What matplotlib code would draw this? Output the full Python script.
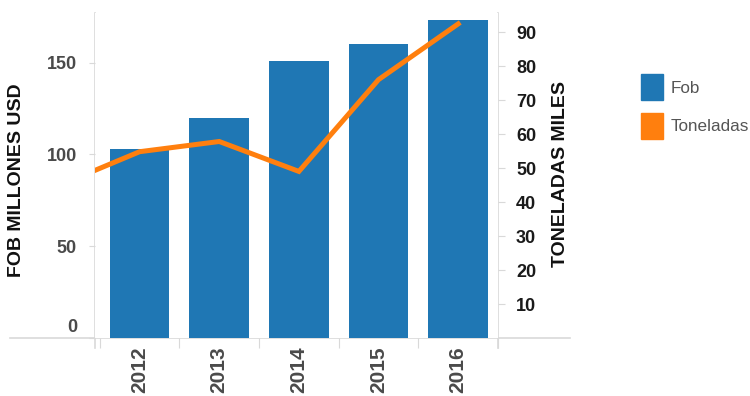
import numpy as np
import matplotlib
matplotlib.use("Agg")
import matplotlib.pyplot as plt
import matplotlib.transforms as mtransforms
from matplotlib.patches import Patch
from matplotlib.lines import Line2D

plt.rcParams['font.family'] = ['Liberation Sans', 'DejaVu Sans']

# Exportaciones por año
years = ["2012", "2013", "2014", "2015", "2016"]
fob = [103, 120, 151, 160, 173]                     # millones USD
# the tonnage series starts one year earlier, clipped at the left edge
ton_years = ["2011", "2012", "2013", "2014", "2015", "2016"]
toneladas = [45, 54.8, 57.8, 49, 76, 92.4]          # miles de toneladas

fob_ticks = [0, 50, 100, 150]
ton_ticks = [10, 20, 30, 40, 50, 60, 70, 80, 90]

BLUE = "#1f77b4"
ORANGE = "#ff7f0e"
GRID = "#d9d9d9"

W, H = 750, 396
fig = plt.figure(figsize=(W / 100, H / 100), dpi=100)
L, R, T, B = 95, 498, 13, 338
ax = fig.add_axes([L / W, 1 - B / H, (R - L) / W, (B - T) / H])

x = np.arange(len(years))
x_ton = np.arange(len(ton_years)) - 1
ax.bar(x, fob, width=0.75, color=BLUE, zorder=2)
ax.set_xlim(-0.56, 4.5)
ax.set_ylim(0, 177)

ax2 = ax.twinx()
ax2.plot(x_ton, toneladas, color=ORANGE, lw=3.6, solid_joinstyle="miter", zorder=3)
ax2.set_ylim(0, 95.6)

for a in (ax, ax2):
    for s in a.spines.values():
        s.set_visible(False)

# left axis
ax.set_yticks(fob_ticks)
ax.tick_params(axis="y", length=4, width=0.8, color=GRID, pad=9,
               labelsize=13, labelcolor="#4a4a4a")
for lab in ax.get_yticklabels():
    lab.set_fontweight("bold")
zero_lab = ax.get_yticklabels()[0]
zero_lab.set_transform(zero_lab.get_transform() +
                       mtransforms.ScaledTranslation(0, 0.13, fig.dpi_scale_trans))
ax.set_ylabel("FOB MILLONES USD", fontsize=14, fontweight="bold", color="#111111")
ax.yaxis.set_label_coords(-0.174, 0.486)

# category axis: labels at centres, tick marks at the boundaries
ax.set_xticks(x)
ax.set_xticklabels(years, rotation=90, fontsize=15, fontweight="bold", color="#4a4a4a")
ax.tick_params(axis="x", which="major", length=0, pad=6)
ax.set_xticks(np.arange(len(years) + 1) - 0.5, minor=True)
ax.tick_params(axis="x", which="minor", length=7, width=0.8, color=GRID)

# right axis
ax2.set_yticks(ton_ticks)
ax2.tick_params(axis="y", length=5, width=0.8, color=GRID, pad=8,
                labelsize=13, labelcolor="#1a1a1a")
for lab in ax2.get_yticklabels():
    lab.set_fontweight("bold")
ax2.set_ylabel("TONELADAS MILES", fontsize=14, fontweight="bold",
               color="#111111", rotation=90)
ax2.yaxis.set_label_coords(1.134, 0.506)

# light frame lines
frame = [((10, 570), (B, B)), ((L, L), (T, 348)), ((R, R), (T, 348))]
for xs, ys in frame:
    fig.add_artist(Line2D([v / W for v in xs], [1 - v / H for v in ys],
                          color=GRID, lw=1.2, transform=fig.transFigure, zorder=0))

handles = [Patch(facecolor=BLUE, edgecolor=BLUE), Patch(facecolor=ORANGE, edgecolor=ORANGE)]
fig.legend(handles, ["Fob", "Toneladas"], loc="upper left",
           bbox_to_anchor=(638 / W, 1 - 71 / H), frameon=False,
           fontsize=12.3, labelcolor="#555555", handlelength=1.25, handleheight=1.9,
           handletextpad=0.45, labelspacing=0.8, borderaxespad=0, borderpad=0.2)

fig.savefig("out.png", dpi=100)
